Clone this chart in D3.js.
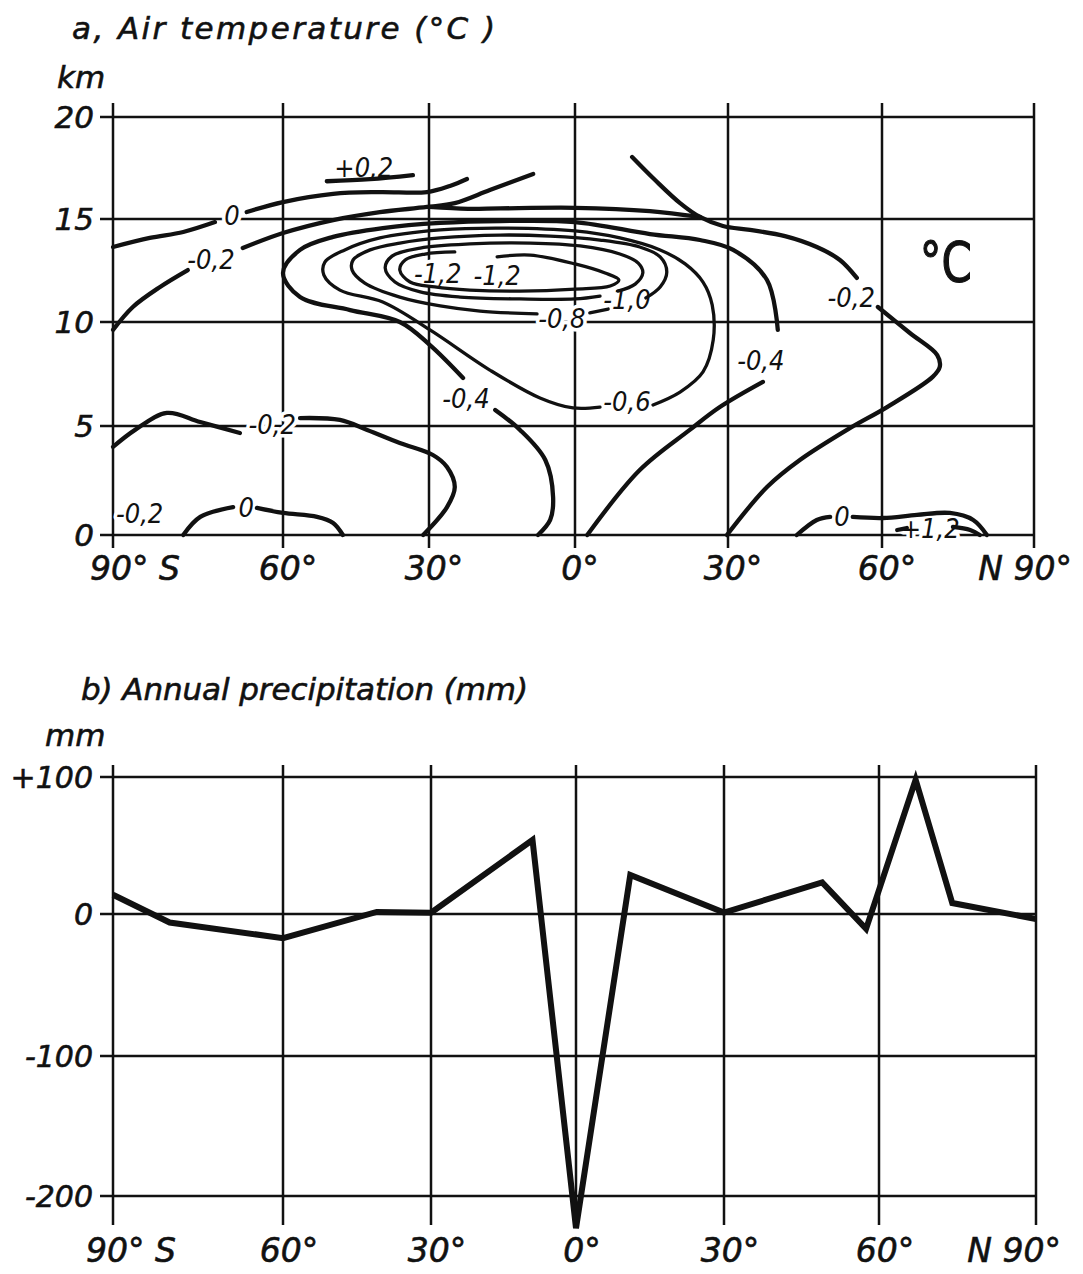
<!DOCTYPE html>
<html><head><meta charset="utf-8">
<script src="https://cdn.jsdelivr.net/npm/d3@7"></script>
<style>body{margin:0;background:#fff}</style>
</head><body>
<svg id="c" width="1083" height="1274"></svg>
<script>
// ---------- DATA ----------
const latTicks = [-90,-60,-30,0,30,60,90];
const latLabels = ["90° S","60°","30°","0°","30°","60°","N 90°"];
const kmTicks = [0,5,10,15,20];
const kmLabels = ["0","5","10","15","20"];
const mmTicks = [100,0,-100,-200];
const mmLabels = ["+100","0","-100","-200"];

// Panel b: annual precipitation change (mm) by latitude
const precipLat = [-90,-80,-60,-41,-30,-9,0,11,30,49,57.5,67,74,90];
const precipMm  = [14,-6,-17,1.5,1,54,-223,28.5,1,23,-10.5,98,8,-3.5];

// Panel a: isolines of air temperature change, [latitude, km]
const iso_p02_a  = [[-51.0,16.85],[-42.1,16.95],[-33.3,17.15]];
const iso_0_a    = [[-90,13.64],[-83.5,14.08],[-77.6,14.37],[-72.0,14.85]];
const iso_0_b    = [[-66.4,15.34],[-60,15.83],[-49.7,16.23],[-40.1,16.32],[-30.4,16.32],[-25.7,16.62],[-22.2,16.96]];
const iso_m02_a  = [[-90,9.62],[-86.5,10.73],[-81.7,11.70],[-76.8,12.52]];
const iso_m02_b  = [[-67.1,13.59],[-60,14.32],[-49.7,14.95],[-40.1,15.34],[-30.4,15.59],[-24.7,15.78],[-17.5,16.42],[-8.6,17.21]];
const iso_m02_c  = [[-30,15.59],[-22,15.5],[-15.4,15.52],[0,15.55],[14.7,15.39],[24.5,15.1]];
const iso_m02_d  = [[11.2,18.04],[15.7,16.91],[20.6,15.78],[24.5,15.1],[29.0,14.66],[34.3,14.47],[41.1,14.17],[47.3,13.64],[51.8,13.01],[55.1,12.14]];
const iso_m02_e  = [[59.2,10.73],[65.5,9.47],[70.9,8.41],[71.4,7.84],[70.0,7.36],[61.0,5.91],[53.8,4.91],[44.0,3.44],[37.6,2.20],[29.8,0]];
const iso_m02_f  = [[-90,4.04],[-86.1,4.82],[-80.5,5.63],[-74.6,5.19],[-67.6,4.68]];
const iso_m02_g  = [[-56.5,5.38],[-48.3,5.29],[-42.7,4.82],[-36.0,4.22],[-29.2,3.67],[-26.3,3.12],[-24.7,2.2],[-26.3,1.28],[-31.2,0]];
const iso_m04_a  = [[-7.6,0],[-5.1,0.69],[-4.5,1.74],[-6.1,3.44],[-11.3,4.82],[-16.4,5.77]];
const iso_m04_b  = [[-23.0,7.31],[-29.8,8.89],[-36.0,10.0],[-46.2,10.58],[-56.5,11.21],[-60,12.38],[-56.5,13.5],[-49.7,14.13],[-39.5,14.56],[-27.7,14.81],[-15.4,14.9],[0,14.85],[14.7,14.27],[24.5,13.98],[31.0,13.5],[37.6,12.04],[39.7,9.62]];
const iso_m04_c  = [[36.8,7.12],[28.4,5.91],[22.5,4.82],[12.7,2.98],[2.4,0]];
const iso_m06    = [[4.9,5.91],[-0.4,5.87],[-7.2,6.35],[-17.5,7.69],[-29.8,9.62],[-39.5,10.97],[-48.3,11.55],[-51.6,12.28],[-51.4,12.91],[-47.3,13.5],[-40.1,14.08],[-27.7,14.47],[-15.4,14.56],[0,14.42],[8.8,14.08],[16.7,13.5],[21.6,12.82],[25.1,11.94],[26.9,10.83],[27.1,9.13],[25.1,7.6],[20.6,6.63],[15.3,6.01]];
const iso_m08_a  = [[2.9,10.44],[6.5,10.63]];
const iso_m08_b  = [[13.9,11.17],[16.7,11.7],[18.0,12.43],[16.7,13.16],[12.7,13.64],[4.9,13.98],[-5.1,14.17],[-15.4,14.22],[-27.7,14.08],[-36.0,13.83],[-42.1,13.5],[-45.6,13.01],[-45.8,12.52],[-43.2,11.89],[-36.0,11.21],[-27.7,10.78],[-19.5,10.53],[-7.8,10.39]];
const iso_m10    = [[4.9,11.26],[0,11.12],[-11.3,11.12],[-23.6,11.21],[-31.8,11.46],[-37.0,11.94],[-39.0,12.62],[-37.6,13.2],[-31.8,13.59],[-21.6,13.79],[-9.2,13.83],[1.0,13.69],[8.8,13.3],[12.4,12.86],[13.3,12.38],[11.8,11.84],[8.4,11.5]];
const iso_m12    = [[-16.0,13.16],[-9.2,13.25],[0,12.82],[5.9,12.38],[8.6,12.04],[6.9,11.75],[0,11.6],[-11.3,11.5],[-21.6,11.55],[-28.8,11.7],[-33.9,11.94],[-36.0,12.52],[-34.9,13.01],[-30.8,13.3],[-24.7,13.4]];
const iso_0_lo_a = [[-77.6,0],[-74.6,0.83],[-68.8,1.28]];
const iso_0_lo_b = [[-64.6,1.24],[-60,1.01],[-53.0,0.83],[-49.7,0.55],[-47.7,0]];
const iso_0_r_a  = [[43.4,0],[47.3,0.69],[49.9,0.83]];
const iso_0_r_b  = [[54.3,0.83],[60.2,0.78],[66.9,0.92],[73.4,1.01],[78.0,0.69],[80.7,0]];
const iso_p12_a  = [[63.0,0.23],[64.9,0.32]];
const iso_p12_b  = [[74.0,0.37],[77.4,0.23],[79.3,0]];

const isolines = [
  [0.2, iso_p02_a],[0, iso_0_a],[0, iso_0_b],
  [-0.2, iso_m02_a],[-0.2, iso_m02_b],[-0.2, iso_m02_c],[-0.2, iso_m02_d],[-0.2, iso_m02_e],
  [-0.2, iso_m02_f],[-0.2, iso_m02_g],
  [-0.4, iso_m04_a],[-0.4, iso_m04_b],[-0.4, iso_m04_c],
  [-0.6, iso_m06],[-0.8, iso_m08_a],[-0.8, iso_m08_b],[-1.0, iso_m10],[-1.2, iso_m12],
  [0, iso_0_lo_a],[0, iso_0_lo_b],[0, iso_0_r_a],[0, iso_0_r_b],
  [1.2, iso_p12_a],[1.2, iso_p12_b]
];

// isoline labels: [text, latitude, km]
const isoLabels = [
  ["+0,2",-43.4,17.55],["0",-69.0,15.2],["-0,2",-72.7,13.06],
  ["-1,2",-28.2,12.38],["-1,2",-16.0,12.28],["-1,0",10.2,11.12],
  ["-0,8",-2.7,10.19],["-0,6",10.2,6.2],["-0,4",-22.4,6.35],
  ["-0,4",36.4,8.17],["-0,2",54.0,11.21],["-0,2",-61.9,5.1],
  ["0",-66.5,1.28],["0",52.2,0.87],["+1,2",69.5,0.32],["-0,2",-85.3,1.01]
];
const unitLabel = ["°C", 72.6, 12.96];

// ---------- SCALES ----------
const xA = d3.scaleLinear().domain(latTicks).range([113,283,429,575,728,882,1034]);
const yA = d3.scaleLinear().domain(kmTicks).range([535,426,322,219,117]);
const xB = d3.scaleLinear().domain(latTicks).range([113,283,431,576,724,879,1036]);
const yB = d3.scaleLinear().domain([-200,-100,0,100]).range([1196,1056,914,777]);

const INK = "#111";
const FONT = "'DejaVu Sans', 'Liberation Sans', sans-serif";
const FONTC = "'DejaVu Sans Condensed', 'DejaVu Sans', sans-serif";
const svg = d3.select("#c");
svg.append("rect").attr("width",1083).attr("height",1274).attr("fill","#fff");

function txt(g, s, x, y, size, anchor, len) {
  const t = g.append("text").attr("x", x).attr("y", y).text(s)
    .attr("fill", INK).attr("text-anchor", anchor || "start")
    .attr("stroke", INK).attr("stroke-width", 0.6)
    .style("font-family", FONT).style("font-style", "italic").style("font-size", size + "px");
  if (len) t.attr("textLength", len).attr("lengthAdjust", "spacing");
  return t;
}

// ---------- PANEL A ----------
const gA = svg.append("g");
txt(gA, "a, Air temperature (°C )", 72, 39, 31, "start", 423);
txt(gA, "km", 57, 88, 31, "start");

gA.selectAll("line.ha").data(kmTicks).join("line").attr("class","ha")
  .attr("x1", 100).attr("x2", xA(90)).attr("y1", d => yA(d)).attr("y2", d => yA(d))
  .attr("stroke", INK).attr("stroke-width", 2.3);
gA.selectAll("line.va").data(latTicks).join("line").attr("class","va")
  .attr("x1", d => xA(d)).attr("x2", d => xA(d)).attr("y1", yA(20) - 14).attr("y2", yA(0) + 13)
  .attr("stroke", INK).attr("stroke-width", 2.5);

kmTicks.forEach((k, i) => txt(gA, kmLabels[i], 94, yA(k) + 11, 31, "end"));
latTicks.forEach((l, i) => {
  if (i === 0) txt(gA, latLabels[i], xA(l) - 23, 580, 33, "start");
  else if (i === latTicks.length - 1) txt(gA, latLabels[i], xA(l) + 38, 580, 33, "end");
  else txt(gA, latLabels[i], xA(l) + 5, 580, 33, "middle");
});

// labels with white halo (break the grid under them)
gA.selectAll("text.iso").data(isoLabels).join("text").attr("class","iso")
  .attr("x", d => xA(d[1])).attr("y", d => yA(d[2])).attr("dy", "0.36em")
  .attr("text-anchor", "middle").text(d => d[0])
  .attr("fill", INK).attr("stroke", "#fff").attr("stroke-width", 7)
  .attr("paint-order", "stroke").attr("stroke-linejoin", "round")
  .style("font-family", FONTC).style("font-style", "italic").style("font-size", "27px");

gA.append("text").attr("x", xA(unitLabel[1])).attr("y", yA(unitLabel[2])).attr("dy", "0.36em")
  .attr("text-anchor", "middle").text(unitLabel[0]).attr("fill", INK)
  .attr("stroke", INK).attr("stroke-width", 1.2)
  .attr("textLength", 52).attr("lengthAdjust", "spacingAndGlyphs")
  .style("font-family", FONTC).style("font-size", "56px");

const isoLine = d3.line().x(d => xA(d[0])).y(d => yA(d[1])).curve(d3.curveCatmullRom.alpha(0.5));
gA.selectAll("path.iso").data(isolines).join("path").attr("class","iso")
  .attr("d", d => isoLine(d[1])).attr("fill", "none").attr("stroke", INK)
  .attr("stroke-width", d => (d[0] <= -0.6 ? 3.3 : 4.3))
  .attr("stroke-linecap", "round").attr("stroke-linejoin", "round");

// ---------- PANEL B ----------
const gB = svg.append("g");
txt(gB, "b) Annual precipitation (mm)", 81, 700, 31, "start", 447);
txt(gB, "mm", 45, 746, 31, "start");

gB.selectAll("line.hb").data(mmTicks).join("line").attr("class","hb")
  .attr("x1", 100).attr("x2", xB(90)).attr("y1", d => yB(d)).attr("y2", d => yB(d))
  .attr("stroke", INK).attr("stroke-width", 2.5);
gB.selectAll("line.vb").data(latTicks).join("line").attr("class","vb")
  .attr("x1", d => xB(d)).attr("x2", d => xB(d)).attr("y1", yB(100) - 12).attr("y2", yB(-200) + 29)
  .attr("stroke", INK).attr("stroke-width", 2.5);

mmTicks.forEach((m, i) => txt(gB, mmLabels[i], 93, yB(m) + 11, 30, "end"));
latTicks.forEach((l, i) => {
  if (i === 0) txt(gB, latLabels[i], xB(l) - 27, 1262, 33, "start");
  else if (i === latTicks.length - 1) txt(gB, latLabels[i], xB(l) + 25, 1262, 33, "end");
  else txt(gB, latLabels[i], xB(l) + 6, 1262, 33, "middle");
});

const precip = precipLat.map((l, i) => [l, precipMm[i]]);
gB.append("path").datum(precip)
  .attr("d", d3.line().x(d => xB(d[0])).y(d => yB(d[1])))
  .attr("fill", "none").attr("stroke", INK).attr("stroke-width", 6)
  .attr("stroke-linejoin", "miter").attr("stroke-miterlimit", 6);
</script>
</body></html>
